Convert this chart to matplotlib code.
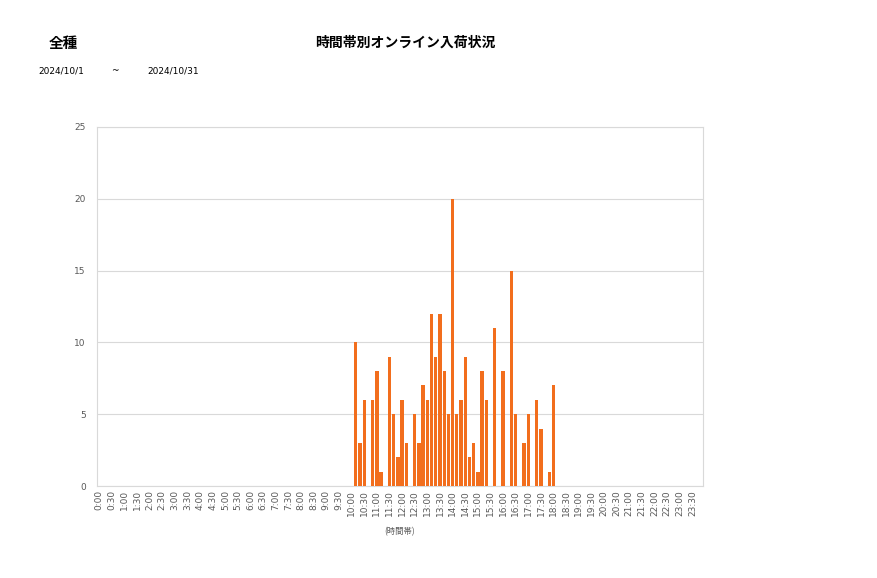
import matplotlib as ml
ml.use('Agg')
import matplotlib.pyplot as plt
import numpy as np

plt.rcParams['font.family'] = ['Noto Sans CJK JP', 'DejaVu Sans']

# Data: counts per 10-minute slot, one row per hour (0:00 .. 23:50)
counts = [
    0, 0, 0, 0, 0, 0,     # 0時
    0, 0, 0, 0, 0, 0,     # 1時
    0, 0, 0, 0, 0, 0,     # 2時
    0, 0, 0, 0, 0, 0,     # 3時
    0, 0, 0, 0, 0, 0,     # 4時
    0, 0, 0, 0, 0, 0,     # 5時
    0, 0, 0, 0, 0, 0,     # 6時
    0, 0, 0, 0, 0, 0,     # 7時
    0, 0, 0, 0, 0, 0,     # 8時
    0, 0, 0, 0, 0, 0,     # 9時
    0, 10, 3, 6, 0, 6,    # 10時
    8, 1, 0, 9, 5, 2,     # 11時
    6, 3, 0, 5, 3, 7,     # 12時
    6, 12, 9, 12, 8, 5,   # 13時
    20, 5, 6, 9, 2, 3,    # 14時
    1, 8, 6, 0, 11, 0,    # 15時
    8, 0, 15, 5, 0, 3,    # 16時
    5, 0, 6, 4, 0, 1,     # 17時
    7, 0, 0, 0, 0, 0,     # 18時
    0, 0, 0, 0, 0, 0,     # 19時
    0, 0, 0, 0, 0, 0,     # 20時
    0, 0, 0, 0, 0, 0,     # 21時
    0, 0, 0, 0, 0, 0,     # 22時
    0, 0, 0, 0, 0, 0,     # 23時
]
slot_labels = ["%d:%02d" % (i // 6, (i % 6) * 10) for i in range(144)]
title = "時間帯別オンライン入荷状況"
category = "全種"
date_from = "2024/10/1"
date_to = "2024/10/31"
x_title = "(時間帯)"

bar_color = '#F26E1D'
grid_color = '#D9D9D9'
text_color = '#595959'

fig = plt.figure(figsize=(8.77, 5.78), dpi=100)
ax = fig.add_axes([97/877, 1-486/578, 606/877, 359/578])

x = np.arange(len(counts))
ax.bar(x, counts, width=0.8, color=bar_color, zorder=3)

ax.set_xlim(-0.5, len(counts) - 0.5)
ax.set_ylim(0, 25)
ax.set_yticks([0, 5, 10, 15, 20, 25])
ax.yaxis.grid(True, color=grid_color, linewidth=0.8, zorder=0)
ax.set_xticks(x[::3])
ax.set_xticklabels(slot_labels[::3], rotation=90, fontsize=6.5, color=text_color,
                   family=['DejaVu Sans'])
for lab in ax.get_yticklabels():
    lab.set_family(['DejaVu Sans'])
ax.tick_params(axis='y', labelsize=6.5, labelcolor=text_color, length=0, pad=8)
ax.tick_params(axis='x', length=0, pad=3)
for s in ax.spines.values():
    s.set_color(grid_color)
    s.set_linewidth(0.8)

ax.set_xlabel(x_title, fontsize=6, color=text_color, labelpad=8)

fig.text(63/877, 1-43/578, category, fontsize=10.5, fontweight='bold', ha='center', va='center')
fig.text(405/877, 1-43/578, title, fontsize=10, fontweight='bold', ha='center', va='center')
fig.text(38/877, 1-71/578, date_from, fontsize=6.5, ha='left', va='center', family=['DejaVu Sans'])
fig.text(115/877, 1-71/578, "~", fontsize=6.5, ha='center', va='center', family=['DejaVu Sans'])
fig.text(147/877, 1-71/578, date_to, fontsize=6.5, ha='left', va='center', family=['DejaVu Sans'])

fig.savefig("out.png", dpi=100)
